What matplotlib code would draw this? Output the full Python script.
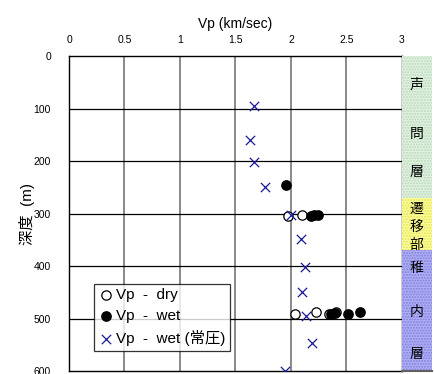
import numpy as np
import matplotlib.pyplot as plt
from matplotlib.patches import Rectangle

plt.rcParams['font.family'] = ['Liberation Sans', 'Noto Sans CJK JP', 'DejaVu Sans']

# data (Vp km/sec, depth m)
dry_vp    = [1.97, 2.10, 2.04, 2.23, 2.34, 2.41]
dry_depth = [304, 303, 491, 488, 491, 488]

wet_vp    = [1.96, 2.18, 2.21, 2.24, 2.36, 2.40, 2.51, 2.62]
wet_depth = [245, 304, 303, 302, 491, 489, 491, 488]

wet0_vp    = [1.67, 1.63, 1.67, 1.77, 2.00, 2.09, 2.13, 2.10, 2.14, 2.19, 1.95]
wet0_depth = [95, 159, 202, 250, 303, 348, 401, 450, 495, 547, 600]

# stratigraphic column: top, bottom, fill, dots, chars, char depths
layers = [(0, 270, '#e2f2e2', '#b8d8b8', ['声', '問', '層'], [55, 149, 221]),
          (270, 370, '#ffff99', '#e0e060', ['遷', '移', '部'], [291, 326, 360]),
          (370, 600, '#b0b0f8', '#8080d8', ['稚', '内', '層'], [404, 488, 568])]

fig = plt.figure(figsize=(4.34, 3.74), dpi=100)
ax = fig.add_axes([0.159, 0.008, 0.767, 0.842])

ax.scatter(dry_vp, dry_depth, s=45, facecolors='white', edgecolors='black',
           linewidths=0.9, zorder=3, label='Vp  -  dry')
ax.scatter(wet_vp, wet_depth, s=45, c='black', zorder=3, label='Vp  -  wet')
ax.scatter(wet0_vp, wet0_depth, s=45, marker='x', c='#1a1a9a', linewidths=0.9,
           zorder=4, label='Vp  -  wet (常圧)')

ax.set_xlim(0, 3)
ax.set_ylim(600, 0)
ax.set_xticks(np.arange(0, 3.01, 0.5))
ax.set_xticklabels(['0', '0.5', '1', '1.5', '2', '2.5', '3'])
ax.set_yticks(np.arange(0, 601, 100))
ax.xaxis.tick_top()
ax.xaxis.set_label_position('top')
ax.tick_params(axis='both', length=0, labelsize=7.5, pad=8)
ax.tick_params(axis='y', pad=13)
ax.set_xlabel('Vp (km/sec)', fontsize=10, labelpad=5)
ax.set_ylabel('深度  (m)', fontsize=11, labelpad=-1)

for v in np.arange(0.5, 3, 0.5):
    ax.axvline(v, color='#808080', lw=1.3, zorder=1)
for d in range(100, 600, 100):
    ax.axhline(d, color='black', lw=0.9, zorder=1)
for sp in ax.spines.values():
    sp.set_linewidth(1.0)

leg = ax.legend(loc='lower left', bbox_to_anchor=(0.075, 0.065), fontsize=11,
                frameon=True, fancybox=False, edgecolor='black',
                handletextpad=0.15, handlelength=1.0, borderpad=0.3,
                labelspacing=0.45, borderaxespad=0)
leg.get_frame().set_linewidth(0.9)

# right column
ax2 = fig.add_axes([0.926, 0.008, 0.069, 0.842])
ax2.set_xlim(0, 1)
ax2.set_ylim(600, 0)
ax2.axis('off')
for top, bot, col, dots, chars, ys in layers:
    ax2.add_patch(Rectangle((0, top), 1, bot - top, facecolor=col,
                            edgecolor=dots, hatch='......', lw=0))
    for ch, yy in zip(chars, ys):
        ax2.text(0.5, yy, ch, ha='center', va='center', fontsize=10)
ax2.plot([0, 1], [600, 600], color='#606060', lw=1.5, clip_on=False)

fig.savefig('out.png', dpi=100)
